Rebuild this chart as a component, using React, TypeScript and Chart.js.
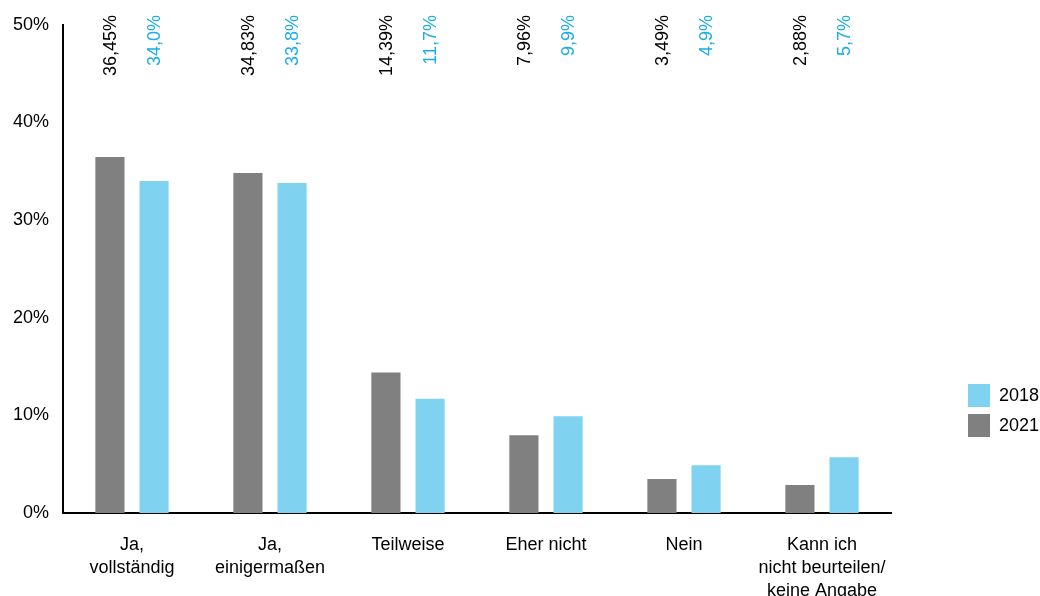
import React, { useEffect, useRef } from "react";
import { Chart, registerables } from "chart.js";

Chart.register(...registerables);

const categories: string[][] = [
  ["Ja,", "vollständig"],
  ["Ja,", "einigermaßen"],
  ["Teilweise"],
  ["Eher nicht"],
  ["Nein"],
  ["Kann ich", "nicht beurteilen/", "keine Angabe"],
];
const values2021 = [36.45, 34.83, 14.39, 7.96, 3.49, 2.88];
const values2018 = [34.0, 33.8, 11.7, 9.9, 4.9, 5.7];
const decimals2021 = 2;
const decimals2018 = 1;
const yTicks = [0, 10, 20, 30, 40, 50];

const GRAY = "#808080";
const LIGHT_BLUE = "#7FD3F0";
const LABEL_BLUE = "#1AADE6";
const FONT = "'Liberation Sans', Arial, sans-serif";

const fmt = (v: number, d: number) => v.toFixed(d).replace(".", ",") + "%";

// Rotated value labels above each bar, anchored near the top of the plot
const valueLabels = {
  id: "valueLabels",
  afterDatasetsDraw(chart: any) {
    const { ctx } = chart;
    const decs = [decimals2021, decimals2018];
    const colors = ["#000000", LABEL_BLUE];
    chart.data.datasets.forEach((ds: any, i: number) => {
      const meta = chart.getDatasetMeta(i);
      meta.data.forEach((bar: any, j: number) => {
        ctx.save();
        ctx.translate(bar.x + 1, 15);
        ctx.rotate(-Math.PI / 2);
        ctx.font = `18px ${FONT}`;
        ctx.fillStyle = colors[i];
        ctx.textAlign = "right";
        ctx.textBaseline = "middle";
        ctx.fillText(fmt(ds.data[j], decs[i]), 0, 0);
        ctx.restore();
      });
    });
  },
};

// Legend on the right, 2018 listed above 2021
const sideLegend = {
  id: "sideLegend",
  afterDraw(chart: any) {
    const { ctx } = chart;
    const items = [...chart.data.datasets].reverse();
    items.forEach((ds: any, i: number) => {
      const y = 384 + i * 30;
      ctx.save();
      ctx.fillStyle = ds.backgroundColor;
      ctx.fillRect(968, y, 22, 23);
      ctx.font = `18px ${FONT}`;
      ctx.fillStyle = "#000000";
      ctx.textAlign = "left";
      ctx.textBaseline = "middle";
      ctx.fillText(ds.label, 999, y + 12);
      ctx.restore();
    });
  },
};

export default function App() {
  const canvasRef = useRef<HTMLCanvasElement>(null);

  useEffect(() => {
    if (!canvasRef.current) return;
    const chart = new Chart(canvasRef.current, {
      type: "bar",
      data: {
        labels: categories,
        datasets: [
          {
            label: "2021",
            data: values2021,
            backgroundColor: GRAY,
            categoryPercentage: 0.64,
            barPercentage: 0.66,
          },
          {
            label: "2018",
            data: values2018,
            backgroundColor: LIGHT_BLUE,
            categoryPercentage: 0.64,
            barPercentage: 0.66,
          },
        ],
      },
      options: {
        animation: false,
        responsive: false,
        maintainAspectRatio: false,
        layout: { padding: { top: 24, right: 149, left: 0, bottom: 0 } },
        plugins: {
          legend: { display: false },
          tooltip: { enabled: false },
        },
        scales: {
          x: {
            grid: { display: false, drawTicks: false },
            border: { color: "#000000", width: 2 },
            ticks: {
              color: "#000000",
              font: { family: FONT, size: 18, lineHeight: 1.27 },
              padding: 21,
              maxRotation: 0,
              autoSkip: false,
            },
            afterFit: (s: any) => {
              s.height = 83;
            },
          },
          y: {
            min: 0,
            max: 50,
            afterBuildTicks: (s: any) => {
              s.ticks = yTicks.map((v) => ({ value: v }));
            },
            grid: { display: false, drawTicks: false },
            border: { color: "#000000", width: 2 },
            ticks: {
              color: "#000000",
              font: { family: FONT, size: 18 },
              padding: 14,
              callback: (v: any) => `${v}%`,
            },
            afterFit: (s: any) => {
              s.width = 63;
            },
          },
        },
      },
      plugins: [valueLabels, sideLegend],
    });
    return () => chart.destroy();
  }, []);

  return (
    <div style={{ position: "fixed", left: 0, top: 0, width: 1040, height: 596, background: "#ffffff" }}>
      <canvas ref={canvasRef} width={1040} height={596} />
    </div>
  );
}
